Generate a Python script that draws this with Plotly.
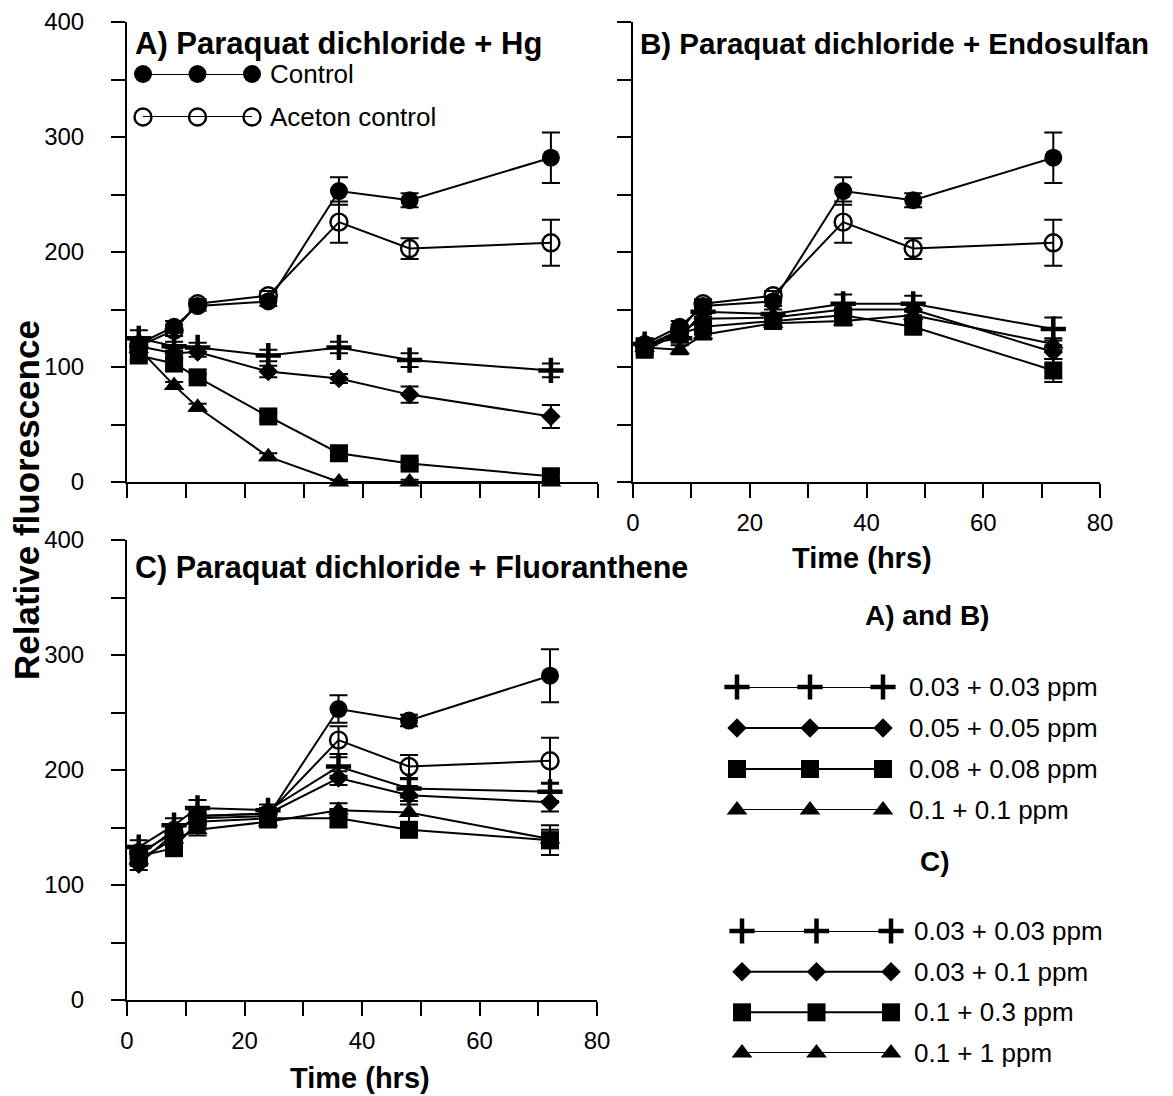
import plotly.graph_objects as go

# ---------------- data ----------------
hours = [2, 8, 12, 24, 36, 48, 72]

# Panel A: Paraquat dichloride + Hg
ctrl_A = [120, 135, 153, 157, 253, 245, 282]
ctrl_A_err = [5, 5, 4, 4, 12, 6, 22]
acet_A = [118, 132, 155, 162, 226, 203, 208]
acet_A_err = [5, 5, 4, 4, 18, 9, 20]
A_s1 = [125, 118, 117, 110, 117, 106, 97]
A_s1_err = [7, 4, 4, 5, 5, 6, 6]
A_s2 = [118, 112, 113, 96, 90, 76, 57]
A_s2_err = [4, 4, 4, 5, 4, 7, 10]
A_s3 = [110, 103, 91, 57, 25, 16, 5]
A_s3_err = [4, 4, 3, 3, 3, 3, 4]
A_s4 = [116, 84, 65, 22, 0, 0, 0]
A_s4_err = [4, 3, 3, 3, 2, 2, 2]

# Panel B: Paraquat dichloride + Endosulfan
ctrl_B = [120, 135, 153, 157, 253, 245, 282]
ctrl_B_err = [5, 5, 4, 4, 12, 6, 22]
acet_B = [118, 132, 155, 162, 226, 203, 208]
acet_B_err = [5, 5, 4, 4, 18, 9, 20]
B_s1 = [120, 125, 148, 146, 155, 155, 133]
B_s1_err = [4, 4, 4, 4, 8, 7, 10]
B_s2 = [118, 130, 142, 143, 150, 150, 113]
B_s2_err = [4, 4, 4, 4, 5, 5, 6]
B_s3 = [115, 129, 135, 140, 145, 135, 97]
B_s3_err = [4, 5, 4, 4, 4, 4, 10]
B_s4 = [117, 115, 128, 138, 140, 145, 120]
B_s4_err = [4, 4, 4, 4, 4, 4, 5]

# Panel C: Paraquat dichloride + Fluoranthene
ctrl_C = [125, 148, 158, 160, 253, 243, 282]
ctrl_C_err = [8, 5, 5, 5, 12, 5, 23]
acet_C = [128, 145, 160, 162, 226, 203, 208]
acet_C_err = [5, 5, 5, 5, 12, 10, 20]
C_s1 = [133, 152, 167, 165, 203, 184, 181]
C_s1_err = [6, 6, 7, 5, 8, 8, 8]
C_s2 = [118, 145, 160, 162, 193, 178, 172]
C_s2_err = [5, 5, 5, 5, 6, 8, 8]
C_s3 = [125, 132, 155, 158, 158, 148, 139]
C_s3_err = [5, 5, 5, 5, 8, 5, 13]
C_s4 = [122, 140, 148, 155, 165, 163, 140]
C_s4_err = [5, 5, 5, 5, 6, 10, 8]

control_names = ["Control", "Aceton control"]
names_AB = ["0.03 + 0.03 ppm", "0.05 + 0.05 ppm", "0.08 + 0.08 ppm", "0.1 + 0.1 ppm"]
names_C = ["0.03 + 0.03 ppm", "0.03 + 0.1 ppm", "0.1 + 0.3 ppm", "0.1 + 1 ppm"]
panel_titles = ["A) Paraquat dichloride + Hg",
                "B) Paraquat dichloride + Endosulfan",
                "C) Paraquat dichloride + Fluoranthene"]
y_ticks = [0, 100, 200, 300, 400]
x_ticks = [0, 20, 40, 60, 80]

# ---------------- styling ----------------
FONT = "Liberation Sans"
PAGE_W, PAGE_H = 1173, 1096
OFF = 8  # default page margin around the plot div
W, H = PAGE_W - OFF, PAGE_H - OFF

M_CTRL = dict(symbol="circle", size=18, color="black")
M_ACET = dict(symbol="circle-open", size=17, color="black", line=dict(width=2.4, color="black"))
M_PLUS = dict(symbol="cross-thin", size=18, color="black", line=dict(width=4.5, color="black"))
M_DIAM = dict(symbol="diamond", size=15, color="black")
M_SQR = dict(symbol="square", size=18, color="black")
M_TRI = dict(symbol="triangle-up", size=18, color="black")
treat_markers = [M_PLUS, M_DIAM, M_SQR, M_TRI]

fig = go.Figure()


def add_series(y, err, marker, xa, ya):
    fig.add_trace(go.Scatter(
        x=hours, y=y, mode="lines+markers",
        error_y=dict(type="data", array=err, visible=True, color="black",
                     thickness=2, width=9),
        line=dict(color="black", width=2),
        marker=marker, xaxis=xa, yaxis=ya, showlegend=False,
        cliponaxis=False, hoverinfo="x+y"))


panels = [
    ("x", "y", [ctrl_A, acet_A], [ctrl_A_err, acet_A_err],
     [A_s1, A_s2, A_s3, A_s4], [A_s1_err, A_s2_err, A_s3_err, A_s4_err]),
    ("x2", "y2", [ctrl_B, acet_B], [ctrl_B_err, acet_B_err],
     [B_s1, B_s2, B_s3, B_s4], [B_s1_err, B_s2_err, B_s3_err, B_s4_err]),
    ("x3", "y3", [ctrl_C, acet_C], [ctrl_C_err, acet_C_err],
     [C_s1, C_s2, C_s3, C_s4], [C_s1_err, C_s2_err, C_s3_err, C_s4_err]),
]
for xa, ya, ctrls, cerrs, treats, terrs in panels:
    for y, e, m in zip(treats[::-1], terrs[::-1], treat_markers[::-1]):
        add_series(y, e, m, xa, ya)
    add_series(ctrls[1], cerrs[1], M_ACET, xa, ya)
    add_series(ctrls[0], cerrs[0], M_CTRL, xa, ya)


def px_x(p):
    return (p - OFF) / W


def px_y(p):
    return 1 - (p - OFF) / H


tickfont = dict(family=FONT, size=24, color="black")


def xaxis(domain, anchor, labels):
    d = dict(domain=domain, anchor=anchor, range=[0, 80], showline=True,
             linecolor="black", linewidth=2, ticks="outside", ticklen=14,
             tickwidth=2, tickcolor="black", showgrid=False, zeroline=False,
             tickfont=tickfont, fixedrange=True, automargin=False)
    if labels:
        d.update(tickvals=x_ticks, showticklabels=True, ticklabelstandoff=4,
                 minor=dict(ticks="outside", ticklen=14, tickwidth=2,
                            tickcolor="black", dtick=10, showgrid=False))
    else:
        d.update(dtick=10, tick0=0, showticklabels=False)
    return d


def yaxis(domain, anchor, labels):
    return dict(domain=domain, anchor=anchor, range=[0, 400], showline=True,
                linecolor="black", linewidth=2, ticks="outside", ticklen=14,
                tickwidth=2, tickcolor="black", showgrid=False, zeroline=False,
                tickvals=y_ticks, showticklabels=labels, tickfont=tickfont,
                ticklabelstandoff=22, fixedrange=True, automargin=False,
                minor=dict(ticks="outside", ticklen=14, tickwidth=2,
                           tickcolor="black", dtick=50, showgrid=False))


xA = [px_x(127), px_x(598)]
xB = [px_x(633), px_x(1100)]
xC = [px_x(127), px_x(597)]
yAB = [px_y(482), px_y(22)]
yC = [px_y(1000), px_y(540)]

layout = dict(
    width=W, height=H, margin=dict(l=0, r=0, t=0, b=0, autoexpand=False),
    paper_bgcolor="white", plot_bgcolor="white", showlegend=False,
    font=dict(family=FONT, color="black"),
    xaxis=xaxis(xA, "y", False), yaxis=yaxis(yAB, "x", True),
    xaxis2=xaxis(xB, "y2", True), yaxis2=yaxis(yAB, "x2", False),
    xaxis3=xaxis(xC, "y3", True), yaxis3=yaxis(yC, "x3", True),
)

# ---------------- custom legends (3 markers per key) ----------------
legend_blocks = [
    # (axis id, x px span, y px span, names, markers, text gap)
    ("4", (143, 252), (74, 117), control_names, [M_CTRL, M_ACET], 16),
    ("5", (737, 883), (687, 810), names_AB, treat_markers, 24),
    ("6", (742, 891), (931, 1053), names_C, treat_markers, 21),
]
annotations = []
key_x = [0, 1, 2]
for aid, (x0, x1), (y0, y1), names, markers, gap in legend_blocks:
    n = len(names)
    layout["xaxis" + aid] = dict(domain=[px_x(x0), px_x(x1)], range=[0, 2],
                                 visible=False, anchor="y" + aid,
                                 fixedrange=True, automargin=False)
    layout["yaxis" + aid] = dict(domain=[px_y(y1), px_y(y0)], range=[n - 1, 0],
                                 visible=False, anchor="x" + aid,
                                 fixedrange=True, automargin=False)
    for i, (nm, mk) in enumerate(zip(names, markers)):
        fig.add_trace(go.Scatter(
            x=key_x, y=[i] * 3, mode="lines+markers",
            line=dict(color="black", width=2), marker=mk,
            xaxis="x" + aid, yaxis="y" + aid, showlegend=False,
            cliponaxis=False, hoverinfo="skip"))
        annotations.append(dict(
            x=2, y=i, xref="x" + aid, yref="y" + aid, text=nm,
            showarrow=False, xanchor="left", yanchor="middle", xshift=gap,
            font=dict(family=FONT, size=26, color="black")))

# group headings
annotations.append(dict(x=px_x(927), y=px_y(615), xref="paper", yref="paper",
                        text="<b>A) and B)</b>", showarrow=False,
                        xanchor="center", yanchor="middle",
                        font=dict(family=FONT, size=28, color="black")))
annotations.append(dict(x=px_x(935), y=px_y(861), xref="paper", yref="paper",
                        text="<b>C)</b>", showarrow=False,
                        xanchor="center", yanchor="middle",
                        font=dict(family=FONT, size=28, color="black")))

# panel titles
for t, (xp, yp), fs in zip(panel_titles, [(133, 43), (638, 43), (133, 567)],
                           [31, 29.5, 30.5]):
    annotations.append(dict(x=px_x(xp), y=px_y(yp), xref="paper", yref="paper",
                            text="<b>" + t + "</b>", showarrow=False,
                            xanchor="left", yanchor="middle",
                            font=dict(family=FONT, size=fs, color="black")))

# axis titles
annotations.append(dict(x=px_x(27), y=px_y(500), xref="paper", yref="paper",
                        text="<b>Relative fluorescence</b>", textangle=-90,
                        showarrow=False, xanchor="center", yanchor="middle",
                        font=dict(family=FONT, size=35, color="black")))
for xc, yc in [(862, 558), (360, 1078)]:
    annotations.append(dict(x=px_x(xc), y=px_y(yc), xref="paper", yref="paper",
                            text="<b>Time (hrs)</b>", showarrow=False,
                            xanchor="center", yanchor="middle",
                            font=dict(family=FONT, size=29, color="black")))

layout["annotations"] = annotations
fig.update_layout(**layout)
fig.write_html("out.html")
